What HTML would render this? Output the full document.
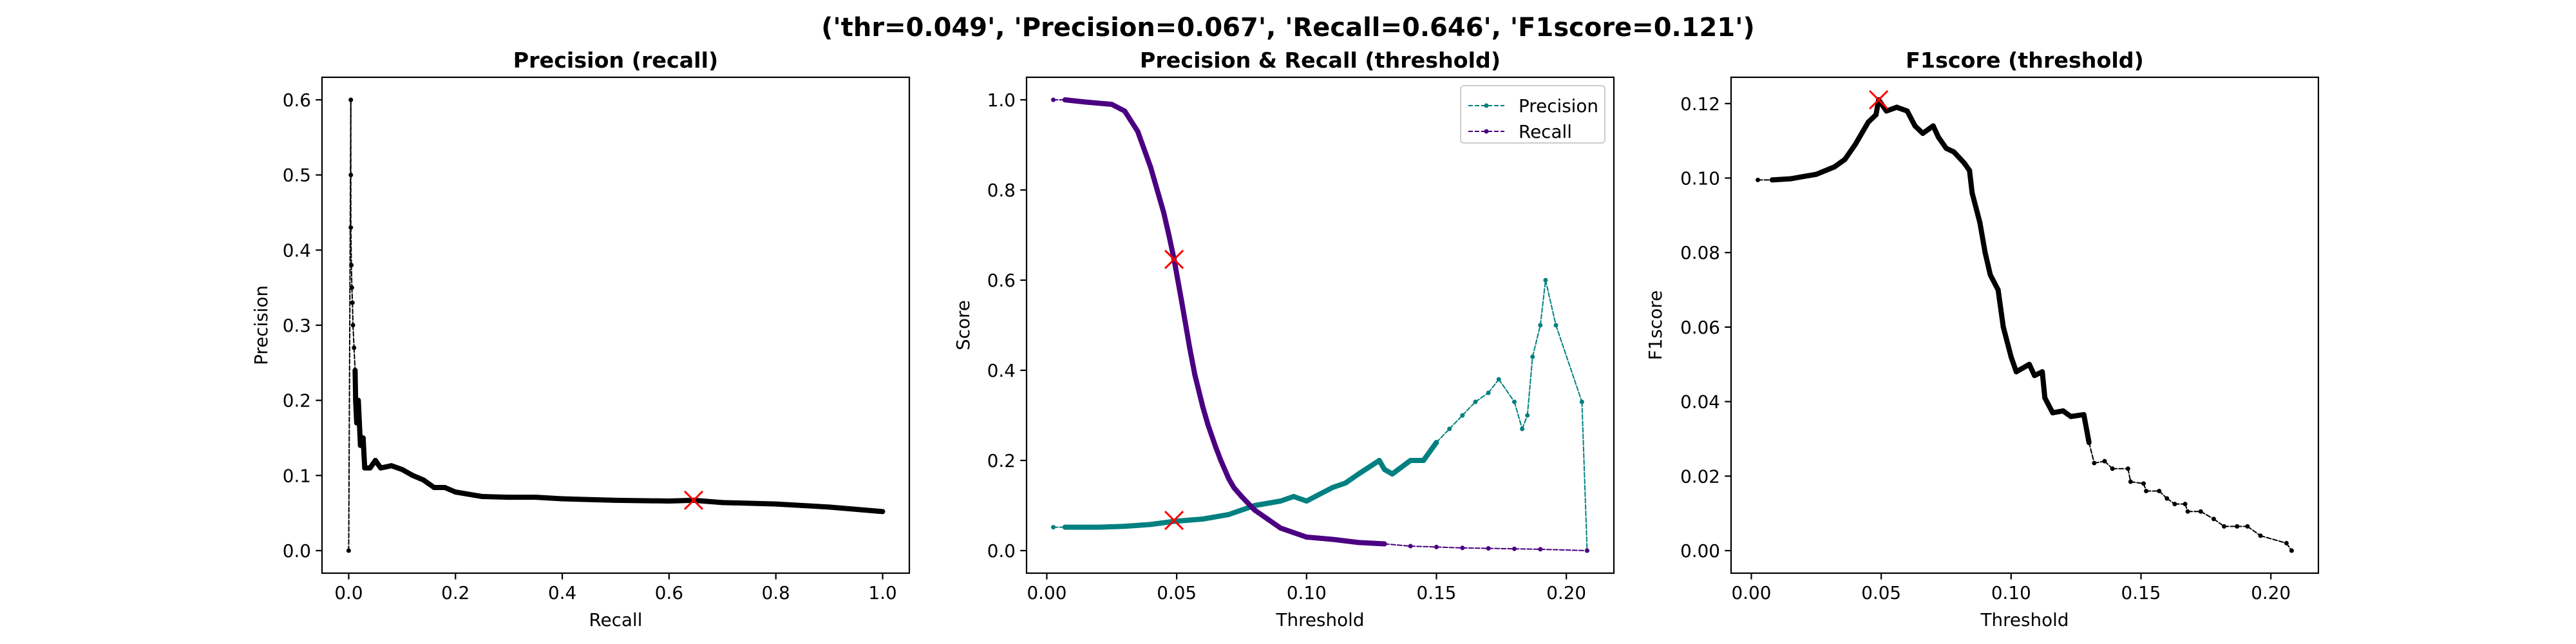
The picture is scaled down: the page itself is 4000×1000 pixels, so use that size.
<!DOCTYPE html>
<html><head><meta charset="utf-8">
<style>
html,body{margin:0;padding:0;background:#fff;}
svg{display:block;font-family:"DejaVu Sans","Liberation Sans",sans-serif;}
</style></head>
<body>
<svg id="fig" width="4000" height="1000" viewBox="0 0 4000 1000" xmlns="http://www.w3.org/2000/svg">
<rect width="4000" height="1000" fill="#fff"/>
<text x="2000" y="56" text-anchor="middle" font-size="40" font-weight="bold">('thr=0.049', 'Precision=0.067', 'Recall=0.646', 'F1score=0.121')</text>
</svg>
<script>
// ---- data ----
const prRecall = [0,0.004,0.004,0.004,0.005,0.006,0.007,0.008,0.01,0.012,0.013,0.015,0.018,0.02,0.022,0.027,0.03,0.04,0.05,0.06,0.08,0.1,0.12,0.14,0.16,0.18,0.2,0.25,0.3,0.35,0.4,0.5,0.6,0.646,0.7,0.8,0.9,1.0];
const prPrecision = [0,0.6,0.5,0.43,0.38,0.35,0.33,0.3,0.27,0.24,0.2,0.17,0.2,0.17,0.14,0.15,0.11,0.11,0.12,0.11,0.113,0.108,0.1,0.094,0.084,0.084,0.078,0.072,0.071,0.071,0.069,0.067,0.066,0.067,0.064,0.062,0.058,0.052];
const precThr = [0.0025,0.007,0.02,0.03,0.04,0.049,0.06,0.07,0.08,0.09,0.095,0.1,0.11,0.115,0.12,0.128,0.13,0.133,0.14,0.145,0.15,0.155,0.16,0.165,0.17,0.174,0.18,0.183,0.185,0.187,0.19,0.192,0.196,0.206,0.208];
const precVal = [0.052,0.052,0.052,0.054,0.058,0.065,0.07,0.08,0.1,0.11,0.12,0.11,0.14,0.15,0.17,0.2,0.18,0.17,0.2,0.2,0.24,0.27,0.3,0.33,0.35,0.38,0.33,0.27,0.3,0.43,0.5,0.6,0.5,0.33,0.0];
const recThr = [0.0025,0.007,0.015,0.025,0.03,0.035,0.04,0.042,0.045,0.047,0.049,0.052,0.055,0.057,0.06,0.062,0.065,0.067,0.07,0.072,0.075,0.08,0.085,0.09,0.095,0.1,0.11,0.12,0.13,0.14,0.15,0.16,0.17,0.18,0.19,0.208];
const recVal = [1.0,1.0,0.995,0.99,0.975,0.93,0.85,0.81,0.75,0.70,0.646,0.55,0.45,0.39,0.32,0.28,0.23,0.2,0.16,0.14,0.12,0.09,0.07,0.05,0.04,0.03,0.025,0.018,0.015,0.01,0.008,0.006,0.005,0.004,0.003,0.0];
const f1Thr = [0.0025,0.008,0.015,0.025,0.032,0.036,0.04,0.045,0.048,0.049,0.052,0.056,0.06,0.063,0.066,0.07,0.072,0.075,0.078,0.082,0.084,0.085,0.088,0.09,0.092,0.095,0.097,0.1,0.102,0.107,0.109,0.112,0.113,0.116,0.12,0.123,0.128,0.13,0.132,0.136,0.139,0.145,0.146,0.151,0.152,0.157,0.16,0.163,0.167,0.168,0.173,0.178,0.182,0.187,0.191,0.196,0.206,0.208];
const f1Val = [0.0995,0.0995,0.0998,0.101,0.103,0.105,0.109,0.115,0.117,0.121,0.118,0.119,0.118,0.114,0.112,0.114,0.111,0.108,0.107,0.104,0.102,0.096,0.088,0.08,0.074,0.07,0.06,0.052,0.048,0.05,0.047,0.048,0.041,0.037,0.0375,0.036,0.0365,0.029,0.0235,0.024,0.022,0.022,0.0185,0.018,0.016,0.016,0.014,0.0125,0.0125,0.0105,0.0105,0.0085,0.0065,0.0065,0.0065,0.004,0.002,0.0];
const best = {thr:0.049, precision:0.067, recall:0.646, f1:0.121};
const ticks1x = [0,0.2,0.4,0.6,0.8,1.0], ticks1xL=["0.0","0.2","0.4","0.6","0.8","1.0"];
const ticks1y = [0,0.1,0.2,0.3,0.4,0.5,0.6], ticks1yL=["0.0","0.1","0.2","0.3","0.4","0.5","0.6"];
const ticksTx = [0,0.05,0.1,0.15,0.2], ticksTxL=["0.00","0.05","0.10","0.15","0.20"];
const ticks2y = [0,0.2,0.4,0.6,0.8,1.0], ticks2yL=["0.0","0.2","0.4","0.6","0.8","1.0"];
const ticks3y = [0,0.02,0.04,0.06,0.08,0.1,0.12], ticks3yL=["0.00","0.02","0.04","0.06","0.08","0.10","0.12"];

const NS="http://www.w3.org/2000/svg";
const svg=document.getElementById('fig');
function mk(tag,attrs,parent){const e=document.createElementNS(NS,tag);for(const k in attrs)e.setAttribute(k,attrs[k]);(parent||svg).appendChild(e);return e;}
const T=120,B=890;
function makeAxes(left,right,xmin,xmax,ymin,ymax){
  return {left,right,x:v=>left+(v-xmin)/(xmax-xmin)*(right-left),y:v=>B-(v-ymin)/(ymax-ymin)*(B-T)};
}
function drawFrame(ax,name,title,xl,yl,xt,xtl,yt,ytl,ylx){
  const g=mk('g',{});
  
  
  const r=mk('rect',{x:ax.left,y:T,width:ax.right-ax.left,height:B-T,fill:'none',stroke:'#000','stroke-width':2.2},g);
  
  
  xt.forEach((v,i)=>{const X=ax.x(v);
    mk('line',{x1:X,x2:X,y1:B,y2:B+9.7,stroke:'#000','stroke-width':2.2},g);
    const t=mk('text',{x:X,y:B+40,'text-anchor':'middle','font-size':27.8},g);t.textContent=xtl[i];
    
    });
  yt.forEach((v,i)=>{const Y=ax.y(v);
    mk('line',{x1:ax.left,x2:ax.left-9.7,y1:Y,y2:Y,stroke:'#000','stroke-width':2.2},g);
    const t=mk('text',{x:ax.left-17,y:Y+10,'text-anchor':'end','font-size':27.8},g);t.textContent=ytl[i];
    
    });
  const tt=mk('text',{x:(ax.left+ax.right)/2,y:T-15,'text-anchor':'middle','font-size':33.3,'font-weight':'bold'},g);tt.textContent=title;
  
  
  const xa=mk('text',{x:(ax.left+ax.right)/2,y:972,'text-anchor':'middle','font-size':27.8},g);xa.textContent=xl;
  
  
  const ya=mk('text',{x:ylx,y:(T+B)/2,'text-anchor':'middle','font-size':27.8,transform:`rotate(-90 ${ylx} ${(T+B)/2})`},g);ya.textContent=yl;
  
  
  return g;
}
// denseFrom/denseTo: x-range where the original data points are very dense (drawn thick)
function drawSeries(ax,xs,ys,color,name,denseFrom,denseTo){
  const g=mk('g',{});
  
  
  const pts=xs.map((v,i)=>[ax.x(v),ax.y(ys[i])]);
  for(let i=1;i<pts.length;i++){
    const [x1,y1]=pts[i-1],[x2,y2]=pts[i];
    const dense=xs[i-1]>=denseFrom&&xs[i]<=denseTo;
    mk('line',{x1,y1,x2,y2,stroke:color,'stroke-width':dense?8:2,'stroke-dasharray':dense?'none':'7 3','stroke-linecap':'round'},g);
  }
  pts.forEach(p=>mk('circle',{cx:p[0],cy:p[1],r:3.5,fill:color},g));
}
function cross(ax,xv,yv,name){
  const X=ax.x(xv),Y=ax.y(yv),s=14;
  const p=mk('path',{d:`M${X-s},${Y-s}L${X+s},${Y+s}M${X-s},${Y+s}L${X+s},${Y-s}`,stroke:'#f00','stroke-width':3,fill:'none'});
  
  
}
// panel 1
const ax1=makeAxes(500,1412,-0.05,1.05,-0.03,0.63);
drawFrame(ax1,'precision-recall-panel','Precision (recall)','Recall','Precision',ticks1x,ticks1xL,ticks1y,ticks1yL,415);
drawSeries(ax1,prRecall,prPrecision,'#000','precision-recall-line',0.012,1.01);
cross(ax1,best.recall,best.precision,'best-point-marker');
// panel 2
const ax2=makeAxes(1594,2506,-0.0078,0.2183,-0.05,1.05);
drawFrame(ax2,'precision-recall-threshold-panel','Precision & Recall (threshold)','Threshold','Score',ticksTx,ticksTxL,ticks2y,ticks2yL,1505);
drawSeries(ax2,precThr,precVal,'#008080','precision-line',0.007,0.15);
drawSeries(ax2,recThr,recVal,'#4b0082','recall-line',0.007,0.13);
cross(ax2,best.thr,best.recall,'best-recall-marker');
cross(ax2,best.thr,best.precision,'best-precision-marker');
// legend
const lg=mk('g',{});


mk('rect',{x:2268,y:133,width:224,height:89,rx:5,fill:'#fff',stroke:'#ccc','stroke-width':2},lg);
[['Precision','#008080',164],['Recall','#4b0082',204]].forEach(([lab,c,y])=>{
  mk('line',{x1:2280,x2:2336,y1:y,y2:y,stroke:c,'stroke-width':2,'stroke-dasharray':'7 3'},lg);
  mk('circle',{cx:2308,cy:y,r:3.5,fill:c},lg);
  const t=mk('text',{x:2358,y:y+10,'font-size':27.8},lg);t.textContent=lab;
  
  
});
// panel 3
const ax3=makeAxes(2688,3600,-0.0078,0.2183,-0.00605,0.12705);
drawFrame(ax3,'f1score-threshold-panel','F1score (threshold)','Threshold','F1score',ticksTx,ticksTxL,ticks3y,ticks3yL,2580);
drawSeries(ax3,f1Thr,f1Val,'#000','f1score-line',0.008,0.13);
cross(ax3,best.thr,best.f1,'best-f1-marker');
</script>
</body></html>
